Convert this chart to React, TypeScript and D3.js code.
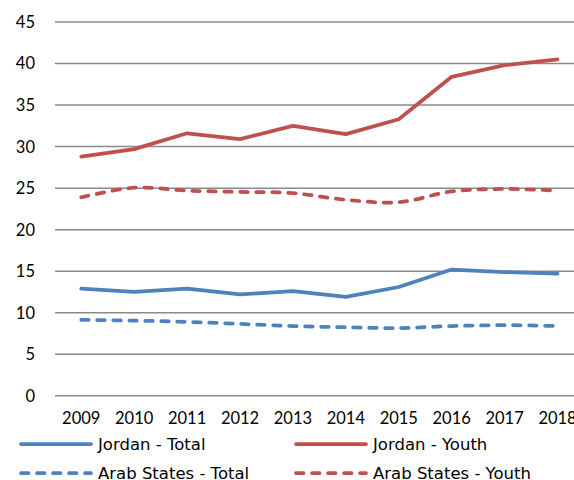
import React from "react";
import * as d3 from "d3";

// Unemployment rates (%), 2009–2018
const years = ["2009", "2010", "2011", "2012", "2013", "2014", "2015", "2016", "2017", "2018"];
const jordanTotal = [12.9, 12.5, 12.9, 12.2, 12.6, 11.9, 13.1, 15.2, 14.9, 14.7];
const jordanYouth = [28.8, 29.7, 31.6, 30.9, 32.5, 31.5, 33.3, 38.4, 39.8, 40.5];
const arabTotal = [9.15, 9.05, 8.9, 8.65, 8.4, 8.25, 8.15, 8.4, 8.5, 8.4];
const arabYouth = [23.9, 25.05, 24.7, 24.55, 24.4, 23.6, 23.3, 24.6, 24.9, 24.7];
const yTicks = [0, 5, 10, 15, 20, 25, 30, 35, 40, 45];

const seriesNames = ["Jordan - Total", "Jordan - Youth", "Arab States - Total", "Arab States - Youth"];

const BLUE = "#4F81BD";
const RED = "#C0504D";
const FONT = "Lato, 'Open Sans', sans-serif";
const LEGEND_FONT = "'DejaVu Sans', sans-serif";

export default function App() {
  const W = 574;
  const H = 480;

  const x = d3.scaleBand<string>().domain(years).range([54.8, 584]);
  const y = d3.scaleLinear().domain([0, 45]).range([395.8, 22]);
  const cx = (yr: string) => (x(yr) as number) + x.bandwidth() / 2;

  const straight = d3
    .line<number>()
    .x((_, i) => cx(years[i]))
    .y((v) => y(v));
  const smooth = d3
    .line<number>()
    .x((_, i) => cx(years[i]))
    .y((v) => y(v))
    .curve(d3.curveCatmullRom.alpha(0.5));

  const series = [
    { name: seriesNames[1], values: jordanYouth, color: RED, dashed: false },
    { name: seriesNames[3], values: arabYouth, color: RED, dashed: true },
    { name: seriesNames[0], values: jordanTotal, color: BLUE, dashed: false },
    { name: seriesNames[2], values: arabTotal, color: BLUE, dashed: true },
  ];

  const dash = "7.5,8.5";
  const lw = 3.75;

  const legend = [
    { name: seriesNames[0], color: BLUE, dashed: false, lx: 21, ly: 444 },
    { name: seriesNames[1], color: RED, dashed: false, lx: 296, ly: 444 },
    { name: seriesNames[2], color: BLUE, dashed: true, lx: 21, ly: 473 },
    { name: seriesNames[3], color: RED, dashed: true, lx: 296, ly: 473 },
  ];

  return (
    <svg
      width={W}
      height={H}
      style={{ position: "absolute", left: 0, top: 0, background: "#fff" }}
      fontFamily={FONT}
    >
      {/* horizontal gridlines */}
      {yTicks.map((t) => (
        <line
          key={"g" + t}
          x1={55}
          x2={W}
          y1={y(t)}
          y2={y(t)}
          stroke="#8a8a8a"
          strokeWidth={1.5}
        />
      ))}
      {/* y-axis labels */}
      {yTicks.map((t) => (
        <text
          key={"yl" + t}
          x={35}
          y={y(t)}
          dy="0.36em"
          textAnchor="end"
          fontSize={16.5}
          fill="#000"
        >
          {t}
        </text>
      ))}
      {/* x-axis labels */}
      {years.map((yr) => (
        <text key={"xl" + yr} x={cx(yr)} y={423.5} textAnchor="middle" fontSize={16.5} fill="#000">
          {yr}
        </text>
      ))}
      {/* series */}
      {series.map((s) => (
        <path
          key={s.name}
          d={(s.dashed ? smooth : straight)(s.values) || ""}
          fill="none"
          stroke={s.color}
          strokeWidth={lw}
          strokeLinecap="round"
          strokeLinejoin="round"
          strokeDasharray={s.dashed ? dash : undefined}
        />
      ))}
      {/* legend */}
      {legend.map((l) => (
        <g key={"lg" + l.name}>
          <line
            x1={l.lx}
            x2={l.lx + 70}
            y1={l.ly}
            y2={l.ly}
            stroke={l.color}
            strokeWidth={lw}
            strokeLinecap="round"
            strokeDasharray={l.dashed ? dash : undefined}
          />
          <text
            x={l.lx + 77}
            y={l.ly}
            dy="0.36em"
            fontSize={16.5}
            fontFamily={LEGEND_FONT}
            fill="#000"
          >
            {l.name}
          </text>
        </g>
      ))}
    </svg>
  );
}
